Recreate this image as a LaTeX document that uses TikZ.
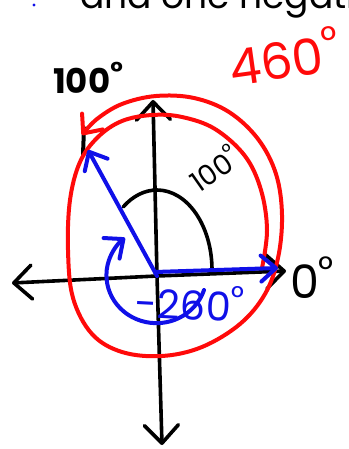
\documentclass[tikz,border=0pt]{standalone}
\usepackage{fontspec}
\setmainfont{Poppins}
\usetikzlibrary{arrows.meta}
\definecolor{PenRed}{HTML}{FF0A0A}
\definecolor{PenBlue}{HTML}{1010E8}
\definecolor{PenInk}{HTML}{000000}
\newcommand{\degmark}{\raisebox{0.35em}{\scalebox{0.8}{°}}}
\tikzset{
  axisline/.style={line width=3.6pt,line cap=round,line join=round,draw=PenInk,
    -{Straight Barb[length=18pt,width=34pt,line cap=round,line join=round]}},
  blueline/.style={line width=4pt,line cap=round,line join=round,draw=PenBlue,
    -{Straight Barb[length=15pt,width=26pt,line cap=round,line join=round]}},
  redline/.style={line width=4pt,line cap=round,line join=round,draw=PenRed,
    -{Straight Barb[length=15pt,width=26pt,line cap=round,line join=round]}},
  arcline/.style={line width=3.6pt,line cap=round,draw=PenInk},
  hand/.style={inner sep=0pt,font=\fontsize{#1}{#1}\selectfont},
  hand/.default=30
}
\begin{document}
\begin{tikzpicture}[x=1pt,y=-1pt]
  \useasboundingbox (0,0) rectangle (348,449);
  \clip (0,0) rectangle (348,449);

  % clipped heading line
  \fill[PenBlue] (34,5) circle (1.6);
  \node[hand=36,anchor=base west] (heading) at (80,9) {and one negative};

  % axes
  \coordinate (origin) at (157,276);
  \coordinate (xleft) at (12,283);
  \coordinate (xright) at (286,271);
  \coordinate (ytop) at (153,100);
  \coordinate (ybottom) at (162,445);
  \draw[axisline] (origin) -- (xleft);
  \draw[axisline] (origin) -- (xright);
  \draw[axisline] (origin) -- (ytop);
  \draw[axisline] (origin) -- (ybottom);

  % 100 degree arc
  \draw[arcline] (212,270) arc[start angle=0,end angle=-128,x radius=55,y radius=80];
  \draw[line width=4pt,line cap=round,PenInk] (84,128) -- (83,154);

  % red spiral, 460 degrees
  \draw[redline] plot[smooth,tension=0.6] coordinates {
    (262,268) (267,230) (261,190) (245,156) (215,129) (182,117) (152,115)
    (122,121) (98,137) (80,162) (70,200) (68,250) (73,298) (92,334)
    (122,352) (162,356) (202,347) (240,324) (265,294) (278,258) (282,215)
    (276,174) (258,139) (229,112) (194,98) (156,96) (122,104) (97,119) (82,135)};

  % blue rays and the -260 arc
  \draw[blueline] (origin) -- (88,150);
  \draw[blueline] (155,272) -- (278,268);
  \draw[blueline] (204,290) arc[start angle=18,end angle=231,x radius=50,y radius=48];

  % labels
  \node[hand=34,font=\bfseries\fontsize{34}{34}\selectfont] (toplabel) at (88,78) {100\degmark};
  \node[hand=50,text=PenRed,rotate=8] (redlabel) at (284,56) {460\degmark};
  \node[hand=28,rotate=35] (arclabel) at (214,168) {100\degmark};
  \node[hand=46] (zerolabel) at (312,278) {0\degmark};
  \node[hand=40,text=PenBlue,rotate=-3] (bluelabel) at (190,302) {-260\degmark};
\end{tikzpicture}
\end{document}
